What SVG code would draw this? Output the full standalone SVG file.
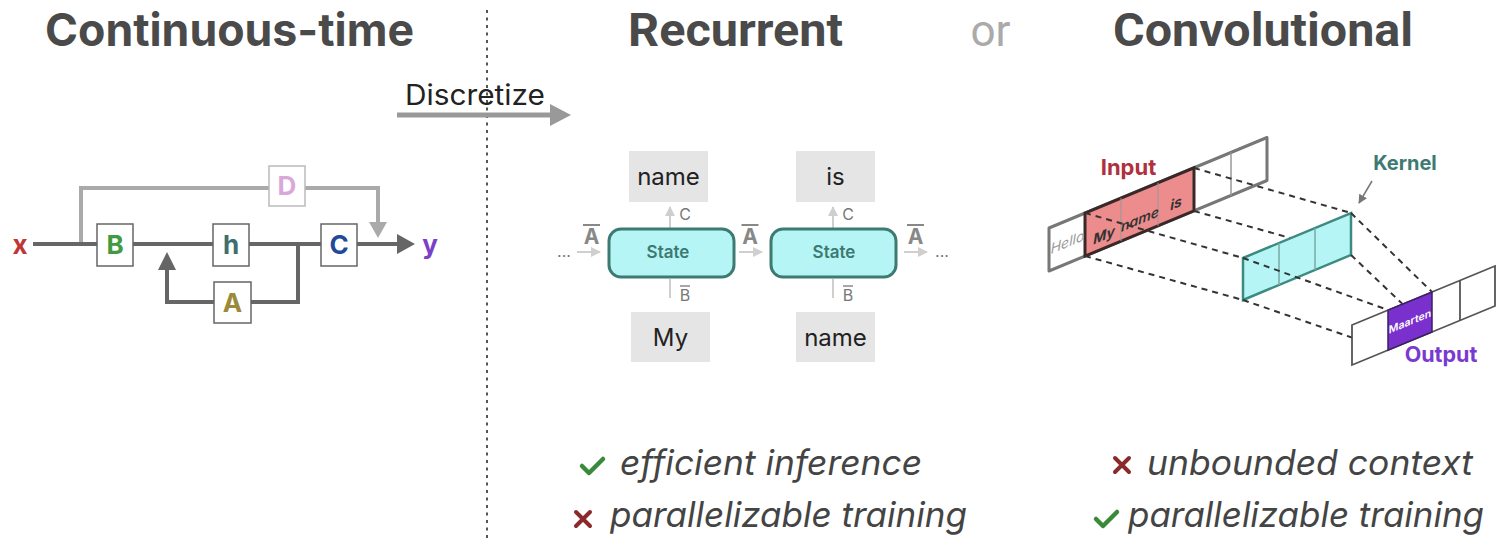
<svg xmlns="http://www.w3.org/2000/svg" width="1498" height="541" viewBox="0 0 1498 541">
<style>
.title{font-family:Inter,"Liberation Sans",sans-serif;font-weight:700;font-size:45px;fill:#4a4a4a}
.title2{font-family:Roboto,"Liberation Sans",sans-serif;font-weight:700;font-size:46px;fill:#4a4a4a}
.box{fill:#fff;stroke:#666;stroke-width:1.5}
.boxd{fill:#fff;stroke:#bbb;stroke-width:1.5}
.let{font-family:Inter,"Liberation Sans",sans-serif;font-weight:700;font-size:26px;text-anchor:middle}
.wire{fill:none;stroke:#666;stroke-width:4}
.wired{fill:none;stroke:#aaa;stroke-width:4}
.tok{fill:#e5e5e5}
.tokt{font-family:Inter,"Liberation Sans",sans-serif;font-size:24px;fill:#222;text-anchor:middle}
.state{fill:#b6f5f5;stroke:#3d7a72;stroke-width:3}
.statet{font-family:Inter,"Liberation Sans",sans-serif;font-weight:600;font-size:17px;fill:#3d7a72;text-anchor:middle}
.thin{fill:none;stroke:#cfcfcf;stroke-width:2}
.small{font-family:Inter,"Liberation Sans",sans-serif;font-size:16px;fill:#777;text-anchor:middle}
.abar{font-family:Inter,"Liberation Sans",sans-serif;font-weight:700;font-size:21px;fill:#888;text-anchor:middle}
.dash{stroke:#333;stroke-width:2;stroke-dasharray:6 5;fill:none}
.ital{font-family:Inter,"Liberation Sans",sans-serif;font-style:italic;font-size:35px;fill:#444}
.cellt{font-family:Inter,"Liberation Sans",sans-serif;font-style:italic;font-size:14px;text-anchor:middle}
</style>
<defs>
<marker id="ahl" viewBox="0 0 10 10" refX="9" refY="5" markerWidth="5" markerHeight="5" orient="auto"><path d="M0,0 L10,5 L0,10 z" fill="#cfcfcf"/></marker>
<marker id="ahk" viewBox="0 0 10 10" refX="9" refY="5" markerWidth="6" markerHeight="6" orient="auto"><path d="M0,0 L10,5 L0,10 z" fill="#777"/></marker>
</defs>

<!-- divider -->
<line x1="487" y1="10" x2="487" y2="541" stroke="#555" stroke-width="2" stroke-dasharray="3 4.5"/>

<!-- titles -->
<text class="title" x="229.5" y="46" text-anchor="middle" textLength="369" lengthAdjust="spacingAndGlyphs">Continuous-time</text>
<text class="title2" x="735.5" y="46" text-anchor="middle" textLength="215" lengthAdjust="spacingAndGlyphs">Recurrent</text>
<text x="990.5" y="46" text-anchor="middle" font-family="Roboto, 'Liberation Sans', sans-serif" font-size="44" fill="#aaa">or</text>
<text class="title2" x="1263" y="46" text-anchor="middle" textLength="300" lengthAdjust="spacingAndGlyphs">Convolutional</text>

<!-- discretize -->
<g id="discretize">
<text x="475" y="105" text-anchor="middle" font-family="Inter, 'Liberation Sans', sans-serif" font-size="28" fill="#222" textLength="140" lengthAdjust="spacingAndGlyphs">Discretize</text>
<line x1="397" y1="115" x2="552" y2="115" stroke="#999" stroke-width="5"/>
<polygon points="550,104 571,115 550,126" fill="#999"/>
</g>

<!-- continuous-time connectors -->
<g id="ct-connectors">
<polyline class="wired" points="81,244 81,188 269,188"/>
<polyline class="wired" points="305,188 378,188 378,224"/>
<polygon points="369,222 387,222 378,238" fill="#aaa"/>
<line class="wire" x1="33" y1="244" x2="97" y2="244"/>
<line class="wire" x1="133" y1="244" x2="213" y2="244"/>
<line class="wire" x1="248" y1="244" x2="321" y2="244"/>
<line class="wire" x1="357" y1="244" x2="400" y2="244"/>
<polygon points="397,234 415,244 397,254" fill="#666"/>
<polyline class="wire" points="298,244 298,302 251,302"/>
<polyline class="wire" points="214,302 167,302 167,268"/>
<polygon points="158,270 176,270 167,252" fill="#666"/>
</g>
<g id="ct-x"><text class="let" x="20" y="254" fill="#c03535">x</text></g>
<g id="ct-y"><text class="let" x="430" y="254" fill="#7a40c8">y</text></g>
<g id="node-B"><rect class="box" x="97" y="224" width="36" height="42"/><text class="let" x="115" y="254" fill="#3f9a42">B</text></g>
<g id="node-h"><rect class="box" x="213" y="224" width="36" height="42"/><text class="let" x="231" y="254" fill="#3e6e70">h</text></g>
<g id="node-C"><rect class="box" x="321" y="224" width="36" height="42"/><text class="let" x="339" y="254" fill="#1f4a9a">C</text></g>
<g id="node-A"><rect class="box" x="214" y="282" width="37" height="41"/><text class="let" x="232.5" y="312" fill="#9a8a3a">A</text></g>
<g id="node-D"><rect class="boxd" x="269" y="166" width="36" height="40"/><text class="let" x="287" y="195" fill="#d8a8d8">D</text></g>

<!-- recurrent -->
<g id="rec-connectors">
<text x="564" y="257" text-anchor="middle" font-family="Inter, 'Liberation Sans', sans-serif" font-size="16" fill="#777">...</text>
<line class="thin" x1="577" y1="252" x2="600" y2="252" marker-end="url(#ahl)"/>
<text class="abar" x="591.5" y="244">A</text><line x1="583" y1="225" x2="600" y2="225" stroke="#888" stroke-width="2"/>
<line class="thin" x1="739" y1="252" x2="762" y2="252" marker-end="url(#ahl)"/>
<text class="abar" x="750" y="244">A</text><line x1="741.5" y1="225" x2="758.5" y2="225" stroke="#888" stroke-width="2"/>
<line class="thin" x1="904" y1="252" x2="927" y2="252" marker-end="url(#ahl)"/>
<text class="abar" x="915.5" y="244">A</text><line x1="907" y1="225" x2="924" y2="225" stroke="#888" stroke-width="2"/>
<text x="942" y="257" text-anchor="middle" font-family="Inter, 'Liberation Sans', sans-serif" font-size="16" fill="#777">...</text>
<line class="thin" x1="670" y1="229" x2="670" y2="207" marker-end="url(#ahl)"/>
<text class="small" x="685" y="220">C</text>
<line class="thin" x1="670" y1="279" x2="670" y2="298"/>
<text class="small" x="685" y="301">B</text><line x1="680" y1="286" x2="690" y2="286" stroke="#777" stroke-width="1.3"/>
<line class="thin" x1="833" y1="229" x2="833" y2="207" marker-end="url(#ahl)"/>
<text class="small" x="848" y="220">C</text>
<line class="thin" x1="833" y1="279" x2="833" y2="298"/>
<text class="small" x="848" y="301">B</text><line x1="843" y1="286" x2="853" y2="286" stroke="#777" stroke-width="1.3"/>
</g>
<g id="tok-name1"><rect class="tok" x="629" y="151" width="79" height="51"/><text class="tokt" x="668.5" y="185">name</text></g>
<g id="tok-is"><rect class="tok" x="796" y="151" width="79" height="51"/><text class="tokt" x="835.5" y="185">is</text></g>
<g id="tok-my"><rect class="tok" x="631" y="312" width="79" height="50"/><text class="tokt" x="670.5" y="346">My</text></g>
<g id="tok-name2"><rect class="tok" x="796" y="312" width="79" height="50"/><text class="tokt" x="835.5" y="346">name</text></g>
<g id="state1"><rect class="state" x="609" y="229" width="125" height="48" rx="12"/><text class="statet" x="668" y="258">State</text></g>
<g id="state2"><rect class="state" x="771" y="229" width="125" height="48" rx="12"/><text class="statet" x="834" y="258">State</text></g>

<!-- convolutional -->
<g id="input">
<polygon points="1049,228 1267,137.5 1267,180.5 1049,271" fill="#fff" stroke="#777" stroke-width="3" stroke-linejoin="round"/>
<polygon points="1085,213.1 1194,167.8 1194,210.8 1085,256.1" fill="#ec8c8c" stroke="#3a2828" stroke-width="3"/>
<line x1="1121" y1="198.1" x2="1121" y2="241.1" stroke="#999" stroke-width="1"/>
<line x1="1158" y1="182.8" x2="1158" y2="225.8" stroke="#999" stroke-width="1"/>
<line x1="1231" y1="152.5" x2="1231" y2="195.5" stroke="#999" stroke-width="1.5"/>
<text class="cellt" transform="translate(1067.5,247) skewY(-22.5)" fill="#999" font-size="12.5">Hello</text>
<text class="cellt" transform="translate(1104,240) skewY(-22.5)" fill="#333" font-weight="700" font-size="15">My</text>
<text class="cellt" transform="translate(1140,224) skewY(-22.5)" fill="#333" font-weight="600">name</text>
<text class="cellt" transform="translate(1176,208) skewY(-22.5)" fill="#333" font-weight="700">is</text>
<text x="1128.5" y="175" text-anchor="middle" font-family="Inter, 'Liberation Sans', sans-serif" font-weight="700" font-size="22" fill="#b03040">Input</text>
</g>
<g id="conv-connectors">
<line class="dash" x1="1085" y1="213" x2="1243" y2="258"/>
<line class="dash" x1="1085" y1="256" x2="1243" y2="300"/>
<line class="dash" x1="1194" y1="168" x2="1351" y2="213"/>
<line class="dash" x1="1194" y1="211" x2="1351" y2="255"/>
</g>
<g id="kernel">
<polygon points="1243,258 1351,213 1351,255 1243,300" fill="#b6f5f5" stroke="#3d8a80" stroke-width="2.5"/>
<line x1="1279" y1="243" x2="1279" y2="285" stroke="#7aa8a4" stroke-width="1.5"/>
<line x1="1315" y1="228" x2="1315" y2="270" stroke="#7aa8a4" stroke-width="1.5"/>
<text x="1405" y="170" text-anchor="middle" font-family="Inter, 'Liberation Sans', sans-serif" font-weight="700" font-size="20" fill="#3d7a72">Kernel</text>
<line x1="1372" y1="181" x2="1359" y2="203" stroke="#777" stroke-width="1.5" marker-end="url(#ahk)"/>
</g>
<g id="conv-connectors2">
<line class="dash" x1="1243" y1="258" x2="1388" y2="310"/>
<line class="dash" x1="1243" y1="300" x2="1388" y2="350"/>
<line class="dash" x1="1351" y1="213" x2="1432" y2="292"/>
<line class="dash" x1="1351" y1="255" x2="1432" y2="332"/>
</g>
<g id="output">
<polygon points="1352,325 1495,266 1495,306 1352,365" fill="#fff" stroke="#555" stroke-width="1.8"/>
<polygon points="1388,310.1 1432,292 1432,332 1388,350.1" fill="#7a30cc" stroke="#3a2060" stroke-width="1.5"/>
<line x1="1460" y1="280.4" x2="1460" y2="320.4" stroke="#555" stroke-width="1.8"/>
<text transform="translate(1410,325) skewY(-22.4)" text-anchor="middle" font-family="Inter, 'Liberation Sans', sans-serif" font-size="10.5" font-weight="600" fill="#fff">Maarten</text>
<text x="1441" y="362" text-anchor="middle" font-family="Inter, 'Liberation Sans', sans-serif" font-weight="700" font-size="21.5" fill="#7a3ad0">Output</text>
</g>

<!-- pros/cons -->
<g id="rec-pros">
<polyline points="582,466 589,473 603,459" fill="none" stroke="#3a8a3a" stroke-width="4.5" stroke-linecap="round" stroke-linejoin="round"/>
<text class="ital" x="620" y="475" textLength="302" lengthAdjust="spacingAndGlyphs">efficient inference</text>
<path d="M576,512 L590,526 M590,512 L576,526" stroke="#8b2a2a" stroke-width="4" stroke-linecap="round"/>
<text class="ital" x="610" y="527" textLength="357" lengthAdjust="spacingAndGlyphs">parallelizable training</text>
</g>
<g id="conv-pros">
<path d="M1115,458 L1129,472 M1129,458 L1115,472" stroke="#8b2a2a" stroke-width="4" stroke-linecap="round"/>
<text class="ital" x="1147" y="475" textLength="326" lengthAdjust="spacingAndGlyphs">unbounded context</text>
<polyline points="1096,519 1103,526 1117,512" fill="none" stroke="#3a8a3a" stroke-width="4.5" stroke-linecap="round" stroke-linejoin="round"/>
<text class="ital" x="1128" y="527" textLength="356" lengthAdjust="spacingAndGlyphs">parallelizable training</text>
</g>
</svg>
